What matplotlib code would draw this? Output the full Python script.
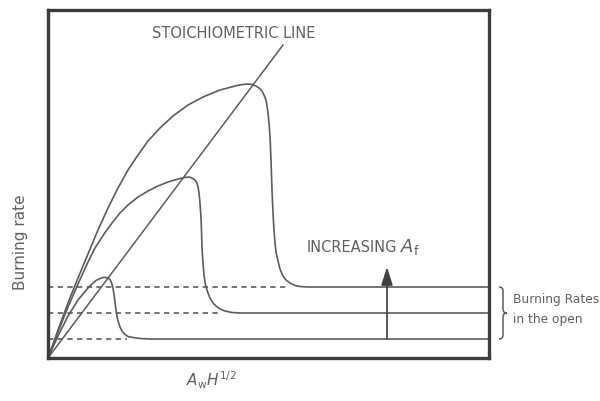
import numpy as np
import matplotlib.pyplot as plt
from matplotlib.path import Path
from matplotlib.patches import PathPatch

plt.rcParams['font.family'] = ['DejaVu Sans']

# burning rate curves (arbitrary units), one per fuel area A_f
big_x = [0, 10, 20, 30, 40, 50, 60, 70, 80, 90, 100, 112, 125, 140, 155, 172, 189, 195, 200, 204,
         208, 211, 214, 216, 218, 219, 220, 221, 222, 223, 224, 225, 226, 227, 228, 230,
         232, 235, 238, 242, 247, 252, 260, 441]
big_y = [0, 28, 55, 80, 104, 128, 150, 170, 188, 203, 217, 230, 242, 253, 261, 268, 272.5, 273.5, 274, 273.5,
         272, 270, 267, 263, 258, 252, 245, 235, 222, 198, 168, 145, 128, 115, 106, 97,
         89, 82, 78, 75, 72.5, 71.5, 71, 71]

mid_x = [0, 10, 20, 30, 40, 47, 56, 64, 72, 80, 90, 100, 110, 120, 130, 137, 141, 144, 147,
         149, 150, 151, 152, 153, 153.5, 154, 155, 156, 157, 158, 160, 162, 165, 168, 172,
         177, 184, 192, 441]
mid_y = [0, 26, 51, 74, 96, 110, 124, 135, 145, 153, 161, 167, 172, 176, 179, 180.5, 181, 180, 178,
         175, 171, 165, 155, 140, 128, 110, 95, 83, 76, 71, 65, 60, 55, 52, 49,
         47, 45.5, 45, 45]

small_x = [0, 10, 20, 30, 40, 44, 48, 52, 55, 58, 60, 62, 63, 64, 65, 66, 67, 68, 69, 70,
           72, 74, 77, 80, 85, 92, 102, 441]
small_y = [0, 22, 42, 58, 70, 74, 77.5, 79.5, 80.5, 80.5, 80, 78.5, 76.5, 73.5, 69.5, 63.5, 56, 48, 42, 37,
           31, 27, 23.5, 21.5, 20.5, 19.5, 19, 19]

# burning rates in the open and where the dashed lines stop
open_rate = [19, 45, 71]
dash_end = [79, 172, 240]

stoich_x = [0, 235]
stoich_y = [0, 313]

line_col = '#5c5c5c'
text_col = '#606060'

fig = plt.figure(figsize=(6, 4.01), dpi=100)
ax = fig.add_axes([48/600, 43/401, 441/600, 348/401])
ax.set_xlim(0, 441)
ax.set_ylim(0, 348)
ax.set_xticks([])
ax.set_yticks([])
for s in ax.spines.values():
    s.set_linewidth(2.4)
    s.set_color('#3c3c3c')

ax.plot(stoich_x, stoich_y, color=line_col, lw=1.1)
for xs, ys in [(big_x, big_y), (mid_x, mid_y), (small_x, small_y)]:
    ax.plot(xs, ys, color=line_col, lw=1.2, solid_joinstyle='round')

for r, e in zip(open_rate, dash_end):
    ax.plot([0, e], [r, r], color=line_col, lw=1.2, linestyle=(0, (3.2, 2.6)))

# arrow for increasing A_f
ax.annotate('', xy=(339, 91), xytext=(339, open_rate[0]),
            arrowprops=dict(arrowstyle='-|>,head_length=1.1,head_width=0.35',
                            color='#404040', lw=1.2, shrinkA=0, shrinkB=0))

ax.text(186, 324, 'STOICHIOMETRIC LINE', ha='center', va='center',
        fontsize=10.5, color=text_col)
ax.text(259, 111, 'INCREASING', ha='left', va='center',
        fontsize=10.5, color=text_col)
ax.text(352, 111, r'$A_{\mathrm{f}}$', ha='left', va='center',
        fontsize=13, color=text_col)
ax.text(163, -22, r'$A_{\mathrm{w}}H^{1/2}$', ha='center', va='center',
        fontsize=11, color=text_col, clip_on=False)
ax.text(-28, 116, 'Burning rate', ha='center', va='center', rotation=90,
        fontsize=11, color=text_col, clip_on=False)

# brace for burning rates in the open
x0, xm, xt = 451, 455, 459
yt, yb = open_rate[2], open_rate[0]
ym = (yt + yb) / 2
r = 4
verts = [(x0, yt), (xm, yt), (xm, yt - r), (xm, ym + r), (xm, ym), (xt, ym),
         (xm, ym), (xm, ym - r), (xm, yb + r), (xm, yb), (x0, yb)]
codes = [Path.MOVETO, Path.CURVE3, Path.CURVE3, Path.LINETO, Path.CURVE3, Path.CURVE3,
         Path.CURVE3, Path.CURVE3, Path.LINETO, Path.CURVE3, Path.CURVE3]
ax.add_patch(PathPatch(Path(verts, codes), fill=False, edgecolor=line_col, lw=1.1,
                       clip_on=False))
ax.text(465, 58, 'Burning Rates', ha='left', va='center', fontsize=8.8,
        color=text_col, clip_on=False)
ax.text(465, 38, 'in the open', ha='left', va='center', fontsize=8.8,
        color=text_col, clip_on=False)

fig.savefig('out.png', dpi=100)
